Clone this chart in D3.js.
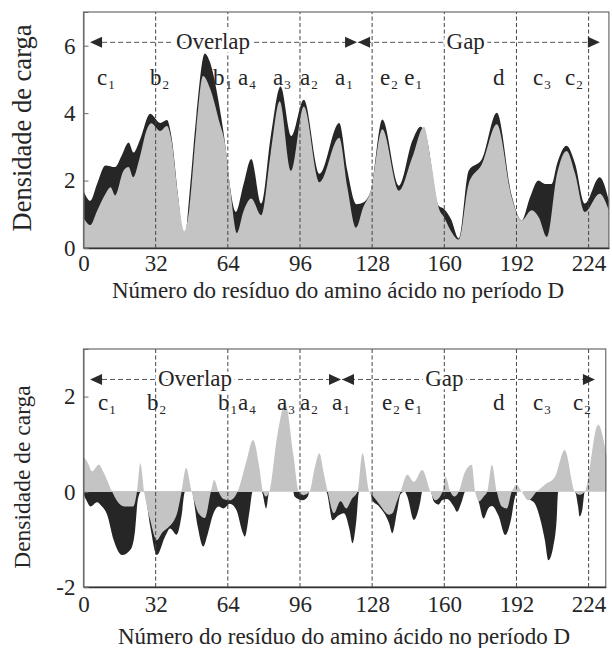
<!DOCTYPE html>
<html><head><meta charset="utf-8">
<script src="https://cdn.jsdelivr.net/npm/d3@7"></script>
<style>body{margin:0;background:#fff}text{font-family:"Liberation Serif","Times New Roman",serif;fill:#262626}</style>
</head><body><svg id="c" width="612" height="648"></svg>
<script>
const xTicks = [0,32,64,96,128,160,192,224];
const topYTicks = [0,2,4,6];
const botYTicks = [-2,0,2];
const xTitle = "Número do resíduo do amino ácido no período D";
const yTitle = "Densidade de carga";

// top panel
const topDarkX = [0,3,6,9.7,14,17,20,22.2,25,29.6,34,37,39,42,44.7,47,50,53.8,56,60,63,65,67.5,71,74.4,78.8,83,87.4,92.1,97.7,104.6,113.4,117,121,124,127.4,132.5,139.9,145.8,149.5,152,157.5,160,163,166.4,170.8,176.7,183.3,189.9,194.3,198,201.7,204.6,207.6,210,214.2,218,222.3,228.9,233];
const topDarkY = [1.7,1.4,1.9,2.45,2.4,2.75,3.13,2.83,3.2,3.98,3.71,3.8,3.3,1.5,0.19,1.6,3.9,5.77,5.53,4.3,2.98,1.8,1.07,1.9,2.64,1.32,3.3,4.79,3.32,4.4,2.2,3.71,2.3,1.3,1.35,1.7,3.81,1.85,3.18,3.6,3.3,1.25,1.15,0.85,0.28,2.29,2.64,4.01,1.55,0.82,1.5,2.0,1.9,1.9,2.5,3.03,2.5,1.32,2.1,1.41];
const topLightX = [0,3,6,9.7,12,14,17.8,20,22,25,28,30,34,37,39,42,44.7,47,50,53,56,60,63,65,68,71,74.4,78.8,83,87,92,97.7,104.6,113.4,117,120.8,124,127.4,132.5,139.9,145.8,151,154,157.5,160,163,166.4,170.8,176.7,183.3,189.9,194.3,198.7,202,205.5,210,214.2,218,222.3,228.9,233];
const topLightY = [0.9,0.68,1.1,1.6,1.8,1.56,2.3,2.4,2.1,2.7,3.5,3.7,3.47,3.62,3.2,1.5,0.5,1.2,3.5,5.1,4.75,3.8,2.98,1.8,0.44,1.1,1.47,0.97,2.8,4.35,2.29,4.2,1.95,3.27,1.8,0.6,1.2,1.7,3.52,1.7,2.69,3.6,2.6,1.2,0.9,0.5,0.25,1.9,2.49,3.67,1.5,0.82,1.12,0.9,0.33,2.2,2.88,2.2,1.07,1.61,1.12];

// bottom panel
const botDarkX = [0,1.5,3.1,6,8,10.4,13.4,17.1,20.8,22.9,24,25.5,26.9,29.6,32.5,36.2,38.4,41.3,43.5,45,48,50.5,53.1,55,57.5,59.9,62,64.9,67.8,70.7,71.5,73.7,75,79,81,82.4,93,93.6,97.2,99.5,100.2,107.6,110.5,113,115.5,118,119.3,121,122.2,127,128.1,131.1,135.5,136.9,139.1,140.6,142.5,143.6,146.5,149.4,150.2,154,155.3,157.5,159,161.2,164.2,165.6,167.8,169.3,173.7,175.2,177.4,179.5,181.1,184,187,189.5,191.4,192.8,195,197.3,200.2,202.4,204.6,206.1,208.3,209.8,210.5,217.9,219.3,220,221.3,222.3,232];
const botDarkY = [-0.05,-0.2,-0.31,-0.22,-0.3,-0.47,-1.02,-1.33,-1.22,-0.8,-0.2,0,0,-0.73,-1.33,-0.94,-0.77,-0.9,-0.5,0,0,-0.7,-1.15,-0.9,-0.47,-0.31,-0.35,-0.25,-0.38,-0.87,-0.94,-0.38,0,0,-0.35,0,0,-0.1,-0.18,-0.1,0,0,-0.6,-0.5,-0.45,-0.8,-1.08,-0.6,0,0,-0.18,-0.31,-0.66,-0.87,-0.4,-0.05,0,-0.1,-0.59,-0.2,0,0,-0.2,-0.27,-0.18,-0.15,-0.31,-0.42,-0.2,0,0,-0.2,-0.56,-0.35,-0.3,-0.5,-0.91,-0.6,-0.1,0,0,-0.14,-0.25,-0.55,-1.02,-1.44,-1.16,-0.6,0,0,-0.3,-0.52,-0.35,0,0];
const botLightX = [0,2,3.8,6.8,9,12.7,15,18,22,23.7,25.2,26.9,29.6,32.5,35,37,41.3,43.5,45.5,48,51,53.8,56.5,58,59.9,62,64.9,68.3,72,75.2,78,79.6,80.9,82.4,86,89.5,93,95.5,97.5,100.2,102.5,104.6,106.5,108.3,111,114,116.5,119,121.5,123.7,126.7,128.5,131,135.5,137,139,140.6,143.6,146.5,150.2,153.9,156,159.2,160.5,162.7,164.5,166.4,169,172.2,173.7,175.5,177.5,179,181.1,183.3,185.5,187.7,189.9,192.1,194.3,197.3,200.9,204.6,209,213.4,217.9,220,222.3,228.2,232];
const botLightY = [0.74,0.6,0.43,0.57,0.4,0,-0.2,-0.31,-0.31,0,0.6,0,-0.6,-1.02,-0.85,-0.77,-0.48,0,0.5,0,-0.45,-0.55,0,0.25,0,-0.15,-0.18,0,0.6,1.09,0.5,0,-0.1,0,1.2,1.85,0.8,0,-0.07,0,0.5,0.81,0.4,0,-0.45,-0.2,-0.35,-0.15,0,0.81,0,-0.1,-0.25,-0.48,-0.45,-0.2,0,0.36,0.21,0.46,0,-0.18,0,0.32,0,-0.1,0,0.4,0.57,0,-0.2,-0.1,0,0.57,0,-0.31,-0.35,0,0.15,0,-0.18,0,0.15,0.31,0.88,0,-0.06,0,1.41,0.75];

// region labels
const labelBase = ["c","b","b","a","a","a","a","e","e","d","c","c"];
const labelSub  = ["1","2","1","4","3","2","1","2","1","","3","2"];
const topLabelAt = [6.0,29.5,57.4,68.5,84.0,96.0,111.5,131.5,142.2,181.6,199.3,213.5];
const botLabelAt = [6.4,28.2,59.6,68.5,85.8,96.0,110.2,132.4,142.2,181.6,199.3,217.1];

// overlap / gap annotation (residue positions)
const topArrow = {left:2.9, meet:121.3, right:229, overlapAt:41.0, gapAt:161.0};
const botArrow = {left:2.9, meet:114.2, right:226.8, overlapAt:33.0, gapAt:151.5};

const svg = d3.select("#c");
const DARK = "#262626", LIGHT = "#c4c4c4", FRAME = "#6a6a6a";
const FS = 23;

function panel(opt){
  const x = d3.scaleLinear().domain([0, opt.xMax]).range([83.5, 83.5 + opt.xMax*2.255]);
  const y = d3.scaleLinear().domain(opt.yDom).range([opt.bottom, opt.top]);
  const g = svg.append("g");
  const x0 = x.range()[0], x1 = x.range()[1];
  const base = opt.base;
  const area = (xs, ys) => d3.area().curve(d3.curveMonotoneX)
      .x((d,i)=>x(xs[i])).y0(y(base)).y1((d,i)=>y(ys[i]))(xs);
  g.append("path").attr("d", area(opt.darkX, opt.darkY)).attr("fill", DARK);
  g.append("path").attr("d", area(opt.lightX, opt.lightY)).attr("fill", LIGHT);

  // dashed verticals
  g.selectAll("line.v").data(xTicks.slice(1)).enter().append("line")
    .attr("x1", d=>x(d)).attr("x2", d=>x(d)).attr("y1", opt.bottom).attr("y2", opt.top)
    .attr("stroke", "#444").attr("stroke-width", 1).attr("stroke-dasharray", "4,2.5");

  // frame
  g.append("rect").attr("x", x0).attr("y", opt.top).attr("width", x1-x0).attr("height", opt.bottom-opt.top)
    .attr("fill","none").attr("stroke", FRAME).attr("stroke-width", 1.2);

  // axes
  const ax = d3.axisBottom(x).tickValues(xTicks).tickSize(0).tickPadding(opt.xPad);
  const gx = g.append("g").attr("transform", `translate(0,${opt.bottom})`).call(ax);
  gx.select(".domain").attr("stroke", "#333").attr("stroke-width", 1.5);
  gx.selectAll("text").attr("font-size", FS).attr("fill","#262626").attr("font-family","Liberation Serif").attr("dy", "0.72em");
  const ay = d3.axisLeft(y).tickValues(opt.yTicks).tickSize(-5).tickPadding(8).tickFormat(d=>String(d));
  const gy = g.append("g").attr("transform", `translate(${x0},0)`).call(ay);
  gy.select(".domain").attr("stroke", FRAME);
  gy.selectAll(".tick line").attr("stroke", FRAME);
  gy.selectAll("text").attr("font-size", FS).attr("fill","#262626").attr("font-family","Liberation Serif");

  // titles
  g.append("text").attr("x", opt.xTitleX).attr("y", opt.xTitleY).attr("text-anchor","middle")
    .attr("font-size", FS).text(xTitle);
  g.append("text").attr("transform", `translate(${opt.yTitleX},${opt.yTitleY}) rotate(-90)`)
    .attr("text-anchor","middle").attr("font-size", opt.yTitleSize).text(yTitle);

  // region labels
  labelBase.forEach((b,i)=>{
    const t = g.append("text").attr("x", x(opt.labelAt[i])).attr("y", opt.labelY).attr("font-size", FS);
    t.append("tspan").text(b);
    if (labelSub[i]) t.append("tspan").attr("font-size", 13).attr("dy", 4).attr("dx", 1).text(labelSub[i]);
  });

  // arrows
  const a = opt.arrow, ay0 = y(opt.arrowVal);
  const ah = 12, hw = 5.5;
  g.append("line").attr("x1", x(a.left)+ah).attr("x2", x(a.right)-ah).attr("y1", ay0).attr("y2", ay0)
    .attr("stroke", "#555").attr("stroke-width", 1).attr("stroke-dasharray", "5,3");
  const tri = (tip, dir) => `M${tip},${ay0} L${tip-dir*ah},${ay0-hw} L${tip-dir*ah},${ay0+hw} Z`;
  g.append("path").attr("d", tri(x(a.left), -1)).attr("fill", "#2a2a2a");
  g.append("path").attr("d", tri(x(a.meet), 1)).attr("fill", "#2a2a2a");
  g.append("path").attr("d", tri(x(a.meet)+1, -1)).attr("fill", "#2a2a2a");
  g.append("path").attr("d", tri(x(a.right), 1)).attr("fill", "#2a2a2a");
  [["Overlap", a.overlapAt], ["Gap", a.gapAt]].forEach(([s, at])=>{
    g.append("text").attr("x", x(at)).attr("y", ay0 + 7).attr("font-size", FS)
      .attr("stroke", "#fff").attr("stroke-width", 7).attr("paint-order", "stroke").text(s);
  });
}

panel({xMax:233, yDom:[0,7], top:12, bottom:248, base:0, yTicks:topYTicks,
  darkX:topDarkX, darkY:topDarkY, lightX:topLightX, lightY:topLightY,
  labelAt:topLabelAt, labelY:85, arrow:topArrow, arrowVal:6.1, xPad:6,
  xTitleX:338, xTitleY:298, yTitleX:31, yTitleY:128, yTitleSize:26.5});

panel({xMax:231.6, yDom:[-2,3], top:349, bottom:587, base:0, yTicks:botYTicks,
  darkX:botDarkX, darkY:botDarkY, lightX:botLightX, lightY:botLightY,
  labelAt:botLabelAt, labelY:410, arrow:botArrow, arrowVal:2.36, xPad:8,
  xTitleX:344, xTitleY:644, yTitleX:30, yTitleY:477, yTitleSize:23.5});
</script></body></html>
